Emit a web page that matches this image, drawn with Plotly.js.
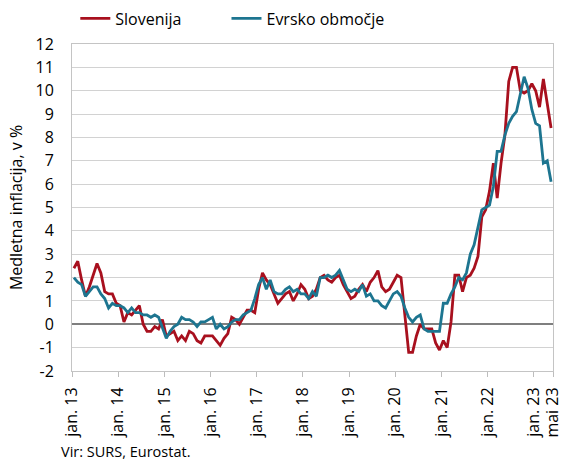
<!DOCTYPE html>
<html>
<head>
<meta charset="utf-8">
<script src="https://cdn.plot.ly/plotly-3.0.1.min.js"></script>
<style>
  html, body { margin: 0; padding: 0; background: #ffffff; }
  #chart { width: 562px; height: 461px; }
</style>
</head>
<body>
<div id="chart"></div>
<script>
// Months Jan 2013 – May 2023 (categories)
const months = [];
for (let y = 2013; y <= 2023; y++) {
  for (let m = 1; m <= 12; m++) {
    if (y === 2023 && m > 5) break;
    months.push(y + '-' + String(m).padStart(2, '0'));
  }
}

// Annual inflation, Slovenia (%)
const slovenija = [
  2.4, 2.7, 1.9, 1.2, 1.6, 2.1, 2.6, 2.2, 1.4, 1.3, 1.3, 0.9,
  0.8, 0.1, 0.5, 0.4, 0.6, 0.8, 0.0, -0.3, -0.3, -0.1, -0.2, 0.2,
  -0.5, -0.4, -0.3, -0.7, -0.5, -0.7, -0.3, -0.4, -0.7, -0.8, -0.5, -0.5,
  -0.5, -0.7, -0.9, -0.6, -0.4, 0.3, 0.2, 0.0, 0.3, 0.6, 0.6, 0.5,
  1.5, 2.2, 1.9, 1.7, 1.3, 0.9, 1.1, 1.3, 1.4, 1.0, 1.3, 1.7,
  1.5, 1.1, 1.2, 1.5, 2.0, 2.1, 1.9, 1.8, 2.0, 2.1, 1.7, 1.4,
  1.1, 1.2, 1.5, 1.7, 1.4, 1.8, 2.0, 2.3, 1.6, 1.4, 1.5, 1.8,
  2.1, 2.0, 0.5, -1.2, -1.2, -0.5, 0.0, -0.2, -0.2, -0.2, -0.8, -1.1,
  -0.7, -1.0, 0.1, 2.1, 2.1, 1.4, 2.0, 2.1, 2.4, 2.9, 4.6, 4.9,
  5.7, 6.9, 5.4, 6.9, 8.1, 10.4, 11.0, 11.0, 10.0, 9.9, 10.0, 10.3,
  10.0, 9.3, 10.5, 9.4, 8.4
];

// Annual inflation, euro area (%)
const evrsko = [
  2.0, 1.8, 1.7, 1.2, 1.4, 1.6, 1.6, 1.3, 1.1, 0.7, 0.9, 0.8,
  0.8, 0.7, 0.5, 0.7, 0.5, 0.5, 0.4, 0.4, 0.3, 0.4, 0.3, -0.2,
  -0.6, -0.3, -0.1, 0.0, 0.3, 0.2, 0.2, 0.1, -0.1, 0.1, 0.1, 0.2,
  0.3, -0.2, 0.0, -0.2, -0.1, 0.1, 0.2, 0.2, 0.4, 0.5, 0.6, 1.1,
  1.7, 2.0, 1.5, 1.9, 1.4, 1.3, 1.3, 1.5, 1.6, 1.4, 1.5, 1.3,
  1.3, 1.1, 1.4, 1.2, 2.0, 2.0, 2.1, 2.0, 2.1, 2.3, 1.9, 1.5,
  1.4, 1.5, 1.4, 1.7, 1.2, 1.3, 1.0, 1.0, 0.8, 0.7, 1.0, 1.3,
  1.4, 1.2, 0.7, 0.3, 0.1, 0.3, 0.4, -0.2, -0.3, -0.3, -0.3, -0.3,
  0.9, 0.9, 1.3, 1.6, 2.0, 1.9, 2.2, 3.0, 3.4, 4.1, 4.9, 5.0,
  5.1, 5.9, 7.4, 7.4, 8.1, 8.6, 8.9, 9.1, 9.9, 10.6, 10.1, 9.2,
  8.6, 8.5, 6.9, 7.0, 6.1
];

const xTickLabels = ['jan. 13', 'jan. 14', 'jan. 15', 'jan. 16', 'jan. 17', 'jan. 18',
  'jan. 19', 'jan. 20', 'jan. 21', 'jan. 22', 'jan. 23', 'mai 23'];
const yTickValues = [-2, -1, 0, 1, 2, 3, 4, 5, 6, 7, 8, 9, 10, 11, 12];
const yTickLabels = ['-2', '-1', '0', '1', '2', '3', '4', '5', '6', '7', '8', '9', '10', '11', '12'];

const idx = months.map((_, i) => i);
// tick marks at category boundaries: each January, plus end of last month
const xTickVals = [];
for (let k = 0; k < 11; k++) xTickVals.push(12 * k - 0.5);
xTickVals.push(months.length - 0.5);

const FONT = 'Open Sans, Noto Sans, sans-serif';
const RED = '#a8101e';
const BLUE = '#1d7590';

const traces = [
  { x: idx, y: slovenija, text: months, type: 'scatter', mode: 'lines', name: 'Slovenija',
    legend: 'legend',
    line: { color: RED, width: 2.8 }, hovertemplate: '%{text}: %{y}<extra>Slovenija</extra>' },
  { x: idx, y: evrsko, text: months, type: 'scatter', mode: 'lines', name: 'Evrsko območje',
    legend: 'legend2',
    line: { color: BLUE, width: 2.8 }, hovertemplate: '%{text}: %{y}<extra>Evrsko območje</extra>' }
];

const legendBase = {
  orientation: 'h', xref: 'container', yref: 'container',
  y: 0.997, xanchor: 'left', yanchor: 'top',
  font: { family: FONT, size: 16, color: '#000' },
  itemwidth: 30, bgcolor: 'rgba(0,0,0,0)', borderwidth: 0
};

const layout = {
  width: 562, height: 461,
  margin: { l: 72, r: 9, t: 44, b: 90 },
  paper_bgcolor: '#ffffff', plot_bgcolor: '#ffffff',
  font: { family: FONT, size: 16, color: '#000000' },
  showlegend: true,
  legend: Object.assign({}, legendBase, { x: 0.134 }),
  legend2: Object.assign({}, legendBase, { x: 0.403 }),
  xaxis: {
    range: [-0.5, months.length - 0.5],
    tickmode: 'array', tickvals: xTickVals, ticktext: xTickLabels,
    tickangle: -90, ticks: 'outside', ticklen: 5, tickcolor: '#bdbdbd', tickwidth: 1,
    ticklabelshift: 0, ticklabelstandoff: 4, ticklabeloverflow: 'allow',
    showgrid: false, zeroline: false,
    showline: true, linecolor: '#c4c4c4', linewidth: 1, mirror: true,
    tickfont: { family: FONT, size: 16, color: '#000' },
    fixedrange: true
  },
  yaxis: {
    range: [-2, 12],
    tickmode: 'array', tickvals: yTickValues, ticktext: yTickLabels,
    ticks: '', ticklabelstandoff: 14,
    showgrid: true, gridcolor: '#d2d2d2', gridwidth: 1,
    zeroline: true, zerolinecolor: '#7f7f7f', zerolinewidth: 2,
    showline: true, linecolor: '#c4c4c4', linewidth: 1, mirror: true,
    tickfont: { family: FONT, size: 16, color: '#000' },
    title: { text: 'Medletna inflacija, v %', font: { family: FONT, size: 16, color: '#000' }, standoff: 8 },
    fixedrange: true
  },
  annotations: [
    { xref: 'paper', yref: 'paper', x: -0.026, y: -0.2477, xanchor: 'left', yanchor: 'middle',
      text: 'Vir: SURS, Eurostat.', showarrow: false,
      font: { family: FONT, size: 14.5, color: '#000' } }
  ]
};

Plotly.newPlot('chart', traces, layout, { displayModeBar: false, staticPlot: false });
</script>
</body>
</html>
